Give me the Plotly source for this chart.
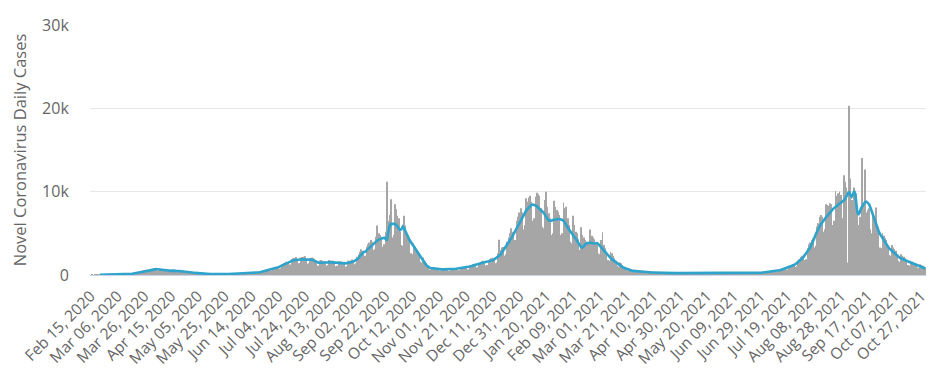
import pandas as pd
import plotly.graph_objects as go

start_date = "2020-02-15"

daily_cases = [
    0,2,0,5,8,10,12,
    12,8,10,20,25,28,30,
    30,22,25,40,48,55,62,
    62,45,50,80,90,95,105,
    110,80,110,190,230,260,300,
    300,240,320,460,520,580,640,
    600,480,520,700,760,820,850,
    720,520,540,760,700,640,620,
    540,380,400,620,600,620,640,
    540,380,390,560,540,520,500,
    420,300,310,440,400,380,360,
    270,190,200,270,240,220,200,
    150,100,100,140,140,135,130,
    110,75,80,115,120,120,125,
    105,80,85,125,130,140,150,
    140,110,120,175,185,200,220,
    205,150,160,230,245,255,270,
    250,190,200,300,310,330,345,
    330,260,300,450,510,580,640,
    620,500,550,800,840,900,960,
    950,750,820,1280,1400,1480,1600,
    1500,1150,1250,1900,2000,2050,2150,
    1850,1400,1450,2100,2150,2200,2250,
    1850,1350,1400,2050,2100,2000,1950,
    1600,1100,1150,1750,1800,1700,1650,
    1500,1100,1200,1800,1750,1700,1700,
    1450,1050,1100,1650,1650,1600,1550,
    1400,1000,1050,1700,1700,1750,1850,
    1750,1300,1400,2200,2500,2800,3100,
    2900,2200,2300,3400,3700,3900,4200,
    4000,3000,3100,4600,5930,5000,4800,
    4600,3400,3700,5200,11200,6500,7200,
    9100,4500,4800,8500,7900,7100,6800,
    5200,3600,3500,7120,5930,5000,4800,
    4200,2600,2500,3800,3400,3000,2800,
    2400,1600,1500,2100,1800,1400,1200,
    1000,650,600,900,880,850,800,
    760,520,500,800,780,760,750,
    720,500,480,780,790,800,810,
    780,560,580,880,900,950,1000,
    950,650,700,1100,1200,1300,1350,
    1300,900,950,1450,1550,1650,1700,
    1600,1150,1200,1800,1900,2000,2100,
    2000,1400,1500,2600,4230,3000,3300,
    3360,2300,2500,4000,4500,5000,5610,
    5200,3800,4200,6520,7000,7500,8000,
    7500,5500,6000,9210,8800,9300,9500,
    8800,6500,6800,9400,9880,9700,9500,
    8000,5800,5600,9000,10000,8200,7400,
    6800,4800,5000,8900,8200,7800,7600,
    7200,4800,5000,8690,8000,8180,6800,
    6000,4000,3800,7120,6000,5200,5000,
    4300,3000,5730,4800,4500,4200,4000,
    3800,200,5460,4700,4500,4300,3900,
    3600,2600,2500,4200,5140,3600,3200,
    2800,1800,1700,2800,2600,2300,2000,
    1700,1100,1000,1500,1400,1200,1000,
    900,600,550,800,700,650,600,
    500,350,340,520,500,480,470,
    420,300,290,430,400,380,360,
    300,220,230,340,320,310,300,
    270,190,200,290,280,270,260,
    240,170,170,260,260,250,240,
    220,160,160,240,240,235,230,
    210,150,150,230,230,230,225,
    210,145,150,225,230,225,220,
    205,145,150,225,225,225,220,
    205,145,150,225,225,220,225,
    205,145,150,225,225,225,220,
    210,150,155,235,240,245,250,
    240,170,175,260,270,280,290,
    280,200,210,310,330,350,370,
    360,270,290,430,460,490,520,
    520,380,420,660,700,760,820,
    820,600,650,1000,1100,1200,1300,
    1300,950,1050,1700,1900,2170,2300,
    2400,1800,1900,3200,3680,3900,4200,
    4400,3300,3500,5810,6200,7000,7200,
    7000,5200,5500,8500,8400,8300,8600,
    8500,6000,6500,10080,9500,9800,10000,
    9600,6800,11980,11180,10500,1500,20300,
    11590,9000,5000,10500,9800,7500,6000,
    7000,5500,14030,8500,12650,7500,7800,
    8000,5500,5000,7200,6800,8100,6000,
    5200,3300,3200,5000,4700,4400,4200,
    3500,2400,2300,3600,3300,3100,2900,
    2500,1700,1600,2500,2300,2200,2000,
    1800,1200,1150,1700,1600,1500,1450,
    1350,900,850,1300,1200,1100,1000,
    850,
]

moving_avg = [
    None,None,None,None,None,None,None,10,12,15,
    18,20,22,25,28,30,35,40,45,50,
    55,60,65,70,75,80,85,90,95,100,
    120,150,180,210,250,290,330,370,410,450,
    490,530,570,600,620,640,660,680,700,700,
    690,670,640,610,570,540,520,500,490,480,
    500,520,530,520,500,480,470,460,450,430,
    420,400,380,360,340,320,300,270,250,230,
    200,190,180,170,150,130,120,120,115,110,
    110,105,100,100,100,100,100,105,105,110,
    110,115,120,125,130,140,150,160,170,180,
    190,195,200,205,210,220,225,230,240,250,
    260,265,270,280,290,300,320,350,390,430,
    480,520,560,600,640,680,720,760,800,860,
    930,1000,1080,1160,1240,1300,1380,1460,1580,1640,
    1700,1750,1780,1820,1840,1860,1870,1880,1880,1870,
    1860,1840,1820,1800,1810,1830,1780,1680,1590,1500,
    1480,1470,1480,1490,1520,1560,1580,1570,1550,1530,
    1520,1500,1480,1460,1450,1440,1430,1420,1410,1400,
    1400,1410,1430,1460,1500,1550,1620,1700,1780,1900,
    2050,2250,2500,2650,2750,2800,2950,3100,3300,3450,
    3600,3750,3950,4050,4150,4250,4300,4350,4420,4470,
    4350,4150,5000,5800,6130,6150,6150,6130,6000,5800,
    5600,5400,5500,5800,5600,5300,4900,4540,4200,3950,
    3700,3400,3160,2900,2650,2400,2200,1980,1750,1500,
    1300,1100,950,880,830,800,780,760,740,720,
    700,690,680,680,680,680,680,680,690,690,
    700,710,730,750,780,800,820,840,860,880,
    900,930,960,1000,1050,1100,1160,1220,1280,1340,
    1400,1430,1460,1490,1520,1550,1600,1650,1700,1750,
    1780,1850,1950,2080,2200,2300,2450,2700,2960,3200,
    3500,3800,4000,4200,4400,4700,5000,5340,5650,5950,
    6200,6550,6920,7200,7450,7700,7900,8100,8300,8420,
    8450,8420,8350,8250,8100,7980,7850,7700,7500,7250,
    6900,6700,6550,6500,6520,6600,6650,6700,6720,6720,
    6720,6700,6600,6500,6300,6000,5700,5500,5300,5050,
    4800,4550,4400,4100,3800,3500,3350,3300,3500,3700,
    3800,3850,3900,3880,3850,3800,3780,3800,3830,3700,
    3500,3350,3150,2960,2750,2550,2350,2200,2050,1900,
    1780,1650,1500,1350,1250,1150,1050,950,870,800,
    740,680,620,560,520,490,470,450,440,430,
    420,410,400,395,390,380,360,340,320,300,
    300,290,285,280,275,270,265,260,255,250,
    245,240,240,235,230,230,225,225,220,220,
    220,215,215,210,210,210,205,205,205,200,
    200,200,200,200,200,200,200,200,200,200,
    200,200,200,200,200,200,200,200,200,200,
    200,200,200,200,200,200,200,200,200,200,
    200,200,200,200,205,205,210,210,215,220,
    220,225,230,235,240,245,250,255,260,265,
    270,285,300,315,330,350,365,380,400,420,
    440,470,500,530,560,600,650,700,750,800,
    850,910,980,1050,1120,1190,1300,1420,1550,1700,
    1850,1980,2150,2350,2550,2800,3050,3300,3600,3950,
    4350,4800,5200,5500,5800,6050,6300,6520,6750,6950,
    7120,7350,7550,7710,7900,8050,8200,8350,8500,8600,
    8690,8800,8950,9100,9400,9700,10000,9600,9400,9700,
    10080,9400,7800,7200,7500,8000,8300,8600,8750,8800,
    8700,8500,8100,7600,7100,6720,6300,5800,5350,4950,
    4700,4400,4100,3800,3550,3360,3200,3050,2900,2750,
    2600,2450,2300,2150,2050,1980,1900,1820,1750,1680,
    1620,1560,1500,1440,1380,1320,1280,1220,1160,1100,
    1000,920,850,790,
]

y_tick_vals = [0, 10000, 20000, 30000]
y_tick_text = ["0", "10k", "20k", "30k"]
y_title = "Novel Coronavirus Daily Cases"

bar_dates = pd.date_range(start_date, periods=len(daily_cases), freq="D")
line_dates = pd.date_range(start_date, periods=len(moving_avg), freq="D")
n_days = max(len(daily_cases), len(moving_avg))
all_dates = pd.date_range(start_date, periods=n_days, freq="D")
x_tick_vals = list(all_dates[::20])

FONT = "Open Sans, Noto Sans, sans-serif"
GRAY = "#666666"

fig = go.Figure()
fig.add_trace(go.Bar(
    x=bar_dates, y=daily_cases,
    marker=dict(color="#a6a6a6", line=dict(width=0)),
    hoverinfo="skip",
))
fig.add_trace(go.Scatter(
    x=line_dates, y=moving_avg, mode="lines",
    line=dict(color="#2ea3cb", width=2.6),
    connectgaps=False,
))

# page body adds an 8px offset; figure sized so the plot lands where the reference's does
fig.update_layout(
    width=928, height=368,
    margin=dict(l=82, r=6, t=14, b=101),
    paper_bgcolor="white", plot_bgcolor="white",
    showlegend=False, bargap=0.4,
    font=dict(family=FONT, color=GRAY, size=16),
)
fig.update_xaxes(
    type="date",
    range=[all_dates[0] - pd.Timedelta(hours=12), all_dates[-1] + pd.Timedelta(hours=12)],
    tickvals=x_tick_vals, tickformat="%b %d, %Y", tickangle=-45,
    tickfont=dict(family=FONT, size=15.5, color=GRAY),
    showgrid=False, showline=True, linecolor="#ccd6eb", linewidth=1,
    ticks="outside", ticklen=5, tickcolor="rgba(0,0,0,0)",
    zeroline=False,
)
fig.update_yaxes(
    range=[0, 30000], tickvals=y_tick_vals, ticktext=y_tick_text,
    tickfont=dict(family=FONT, size=16, color=GRAY),
    showgrid=True, gridcolor="#e6e6e6", gridwidth=1,
    zeroline=False, showline=False,
    ticks="outside", ticklen=17, tickcolor="rgba(0,0,0,0)",
    title=dict(text=y_title, font=dict(family=FONT, size=16.5, color=GRAY), standoff=12),
)

fig.write_html("out.html")
